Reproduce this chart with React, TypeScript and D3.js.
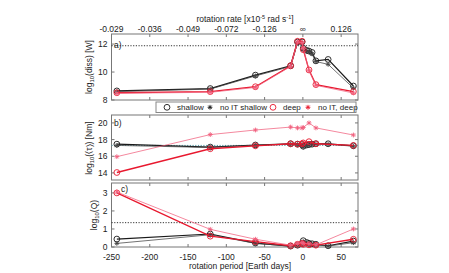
import * as d3 from "d3";

// rotation periods [Earth days] sampled by the model runs
const periods = [-243, -121, -62, -16, -7, -1, 0.5, 5, 8, 12, 17, 33, 66];

// a) log10 dissipation [W]
const dissShallow = [8.65, 8.82, 9.78, 10.45, 12.15, 12.15, 11.7, 11.55, 11.5, 11.4, 10.8, 10.9, 9.0];
const dissNoItShallow = [8.6, 8.78, 9.72, 10.4, 12.1, 12.05, 11.6, 11.5, 11.45, 11.3, 10.75, 10.55, 8.85];
const dissDeep = [8.52, 8.6, 8.95, 10.45, 12.2, 12.2, 11.6, null, 10.15, null, 9.1, null, 8.6];
const dissNoItDeep = [8.48, 8.55, 8.9, 10.4, 12.15, 12.1, 11.7, null, 10.1, null, 9.05, null, 8.5];

// b) log10 torque [Nm]
const tauShallow = [17.45, 17.1, 17.35, 17.5, 17.45, 17.4, 17.2, 17.35, 17.4, 17.45, 17.5, 17.5, 17.25];
const tauNoItShallow = [17.3, 17.05, 17.3, 17.45, 17.4, 17.35, 17.1, 17.3, 17.35, 17.4, 17.45, 17.45, 17.2];
const tauDeep = [14.05, 16.9, 17.25, 17.5, 17.45, 17.5, 17.6, null, 17.75, null, 17.5, null, 17.3];
const tauNoItDeep = [15.95, 18.6, 19.15, 19.5, 19.4, 19.4, 19.45, null, 20.0, null, 19.4, null, 18.55];

// c) log10 Q
const qShallow = [0.44, 0.72, 0.22, 0.05, 0.1, 0.2, 0.35, 0.25, 0.2, 0.18, 0.15, 0.07, 0.33];
const qNoItShallow = [0.2, 0.68, 0.2, 0.05, 0.1, 0.15, 0.3, 0.2, 0.18, 0.15, 0.12, 0.05, 0.24];
const qDeep = [3.0, 0.6, 0.3, 0.07, 0.15, 0.2, 0.15, null, 0.12, null, 0.1, null, 0.43];
const qNoItDeep = [3.05, 0.98, 0.43, 0.1, 0.2, 0.25, 0.2, null, 0.18, null, 0.12, null, 1.0];

// reference levels (dotted)
const refDiss = 11.88;
const refTau = 17.3;
const refQ = 1.35;

const xTicks = [-250, -200, -150, -100, -50, 0, 50];
const rateLabels = ["-0.029", "-0.036", "-0.049", "-0.072", "-0.126", "\u221e", "0.126"];

const W = 449;
const H = 273;
const FONT = "Liberation Sans, Arial, sans-serif";
const BLACK = "#1a1a1a";
const GRAY = "#444";
const RED = "#e8182e";
const PINK = "#f0607e";

const x = d3.scaleLinear().domain([-250, 72]).range([111.5, 358]);

type Series = { vals: (number | null)[]; color: string; width: number; marker: "o" | "*" };

function Marker({ kind, cx, cy, color }: { kind: string; cx: number; cy: number; color: string }) {
  if (kind === "o") {
    return <circle cx={cx} cy={cy} r={2.9} fill="none" stroke={color} strokeWidth={0.9} />;
  }
  const s = 2.4;
  const d2 = s * 0.72;
  const d = `M${cx - s},${cy}L${cx + s},${cy}M${cx},${cy - s}L${cx},${cy + s}M${cx - d2},${cy - d2}L${cx + d2},${cy + d2}M${cx - d2},${cy + d2}L${cx + d2},${cy - d2}`;
  return <path d={d} stroke={color} strokeWidth={0.9} fill="none" />;
}

function Panel({
  y,
  yTicks,
  series,
  refLevel,
  refColor,
  label,
  labelX,
  labelY,
  showBottom,
  showTop,
}: {
  y: d3.ScaleLinear<number, number>;
  yTicks: number[];
  series: Series[];
  refLevel: number;
  refColor: string;
  label: string;
  labelX: number;
  labelY: number;
  showBottom: boolean;
  showTop: boolean;
}) {
  const [x0, x1] = x.range();
  const [yb, yt] = y.range();
  return (
    <g>
      <rect x={x0} y={yt} width={x1 - x0} height={yb - yt} fill="white" stroke="#777" strokeWidth={1} />
      {/* ticks inward on all sides */}
      {xTicks.map((t) => (
        <g key={"x" + t}>
          <line x1={x(t)} x2={x(t)} y1={yb} y2={yb - 3} stroke="#777" />
          <line x1={x(t)} x2={x(t)} y1={yt} y2={yt + 3} stroke="#777" />
        </g>
      ))}
      {yTicks.map((t) => (
        <g key={"y" + t}>
          <line x1={x0} x2={x0 + 3} y1={y(t)} y2={y(t)} stroke="#777" />
          <line x1={x1} x2={x1 - 3} y1={y(t)} y2={y(t)} stroke="#777" />
          <text x={x0 - 4} y={y(t) + 3} fontSize={8.5} textAnchor="end" fontFamily={FONT} fill="#222">
            {t}
          </text>
        </g>
      ))}
      <line x1={x0} x2={x1} y1={y(refLevel)} y2={y(refLevel)} stroke={refColor} strokeWidth={1} strokeDasharray="1.2,1.5" />
      {series.map((s, i) => {
        const pts = periods.map((p, j) => [p, s.vals[j]] as [number, number | null]).filter((d) => d[1] != null) as [number, number][];
        const line = d3
          .line<[number, number]>()
          .x((d) => x(d[0]))
          .y((d) => y(d[1]));
        return (
          <g key={i}>
            <path d={line(pts) || ""} fill="none" stroke={s.color} strokeWidth={s.width} />
            {pts.map((d, k) => (
              <Marker key={k} kind={s.marker} cx={x(d[0])} cy={y(d[1])} color={s.color} />
            ))}
          </g>
        );
      })}
      <text x={labelX} y={labelY} fontSize={8.5} fontFamily={FONT} fill="#222">
        {label}
      </text>
      {showBottom &&
        xTicks.map((t) => (
          <text key={"bl" + t} x={x(t)} y={259.5} fontSize={8.5} textAnchor="middle" fontFamily={FONT} fill="#222">
            {t}
          </text>
        ))}
      {showTop &&
        xTicks.map((t, i) => (
          <text key={"tl" + t} x={x(t)} y={32} fontSize={8.5} textAnchor="middle" fontFamily={FONT} fill="#222">
            {rateLabels[i]}
          </text>
        ))}
    </g>
  );
}

export default function App() {
  const ya = d3.scaleLinear().domain([8, 12.72]).range([100, 34]);
  const yb = d3.scaleLinear().domain([13.15, 20.95]).range([180, 115]);
  const yc = d3.scaleLinear().domain([0, 3.55]).range([247, 183]);

  const mk = (vals: (number | null)[], kind: number): Series => {
    const styles: Omit<Series, "vals">[] = [
      { color: BLACK, width: 1.2, marker: "o" },
      { color: GRAY, width: 0.75, marker: "*" },
      { color: RED, width: 1.3, marker: "o" },
      { color: PINK, width: 0.75, marker: "*" },
    ];
    return { vals, ...styles[kind] };
  };

  const legendItems = [
    { kind: "o", color: BLACK, text: "shallow", mx: 167 },
    { kind: "*", color: BLACK, text: "no IT shallow", mx: 210 },
    { kind: "o", color: RED, text: "deep", mx: 273 },
    { kind: "*", color: RED, text: "no IT, deep", mx: 308 },
  ];

  return (
    <svg width={W} height={H} style={{ position: "absolute", left: 0, top: 0, background: "white" }}>
      <text x={245} y={22} fontSize={8.5} textAnchor="middle" fontFamily={FONT} fill="#222">
        rotation rate [x10
        <tspan dy={-3} fontSize={5.5}>-5</tspan>
        <tspan dy={3}> rad s</tspan>
        <tspan dy={-3} fontSize={5.5}>-1</tspan>
        <tspan dy={3}>]</tspan>
      </text>

      <Panel
        y={ya}
        yTicks={[8, 10, 12]}
        series={[mk(dissShallow, 0), mk(dissNoItShallow, 1), mk(dissDeep, 2), mk(dissNoItDeep, 3)]}
        refLevel={refDiss}
        refColor="#333"
        label="a)"
        labelX={114}
        labelY={48}
        showBottom={false}
        showTop={true}
      />
      <Panel
        y={yb}
        yTicks={[14, 16, 18, 20]}
        series={[mk(tauShallow, 0), mk(tauNoItShallow, 1), mk(tauDeep, 2), mk(tauNoItDeep, 3)]}
        refLevel={refTau}
        refColor="#4f9aa6"
        label="b)"
        labelX={114}
        labelY={126}
        showBottom={false}
        showTop={false}
      />
      <Panel
        y={yc}
        yTicks={[0, 1, 2, 3]}
        series={[mk(qShallow, 0), mk(qNoItShallow, 1), mk(qDeep, 2), mk(qNoItDeep, 3)]}
        refLevel={refQ}
        refColor="#333"
        label="c)"
        labelX={121}
        labelY={192}
        showBottom={true}
        showTop={false}
      />

      {/* legend */}
      <rect x={156} y={102} width={200} height={10.5} fill="white" stroke="#888" strokeWidth={1} />
      {legendItems.map((it) => (
        <g key={it.text}>
          <Marker kind={it.kind} cx={it.mx} cy={107.3} color={it.color} />
          <text x={it.mx + 10} y={110.2} fontSize={8} fontFamily={FONT} fill="#222">
            {it.text}
          </text>
        </g>
      ))}

      {/* axis titles */}
      <text transform="translate(92,67) rotate(-90)" fontSize={8.5} textAnchor="middle" fontFamily={FONT} fill="#222">
        log<tspan dy={2} fontSize={6}>10</tspan>
        <tspan dy={-2}>(diss) [W]</tspan>
      </text>
      <text transform="translate(92,148) rotate(-90)" fontSize={8.5} textAnchor="middle" fontFamily={FONT} fill="#222">
        log<tspan dy={2} fontSize={6}>10</tspan>
        <tspan dy={-2}>({"\u2329"}{"\u03c4"}{"\u232a"}) [Nm]</tspan>
      </text>
      <text transform="translate(97,215) rotate(-90)" fontSize={8.5} textAnchor="middle" fontFamily={FONT} fill="#222">
        log<tspan dy={2} fontSize={6}>10</tspan>
        <tspan dy={-2}>(Q)</tspan>
      </text>
      <text x={240} y={269} fontSize={8.5} textAnchor="middle" fontFamily={FONT} fill="#222">
        rotation period [Earth days]
      </text>
    </svg>
  );
}
